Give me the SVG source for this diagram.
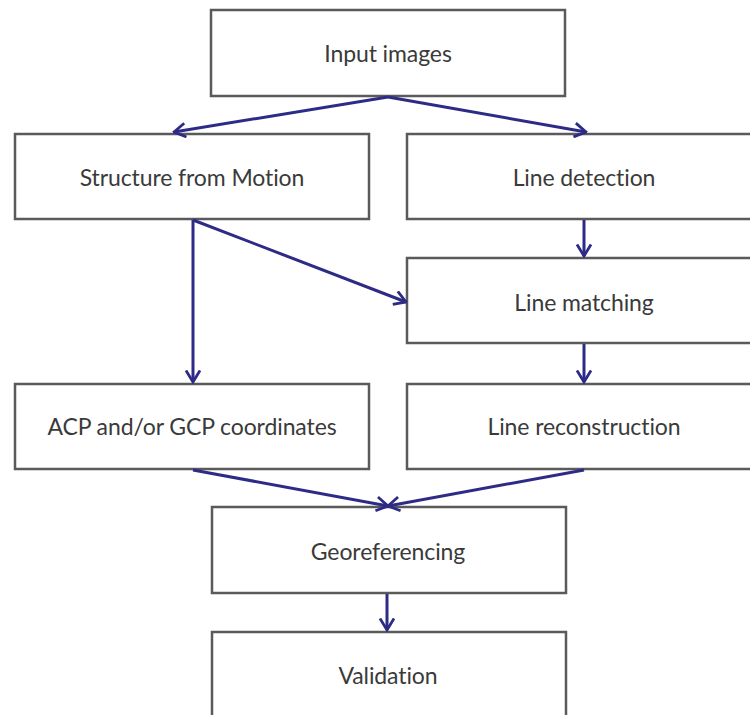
<svg xmlns="http://www.w3.org/2000/svg" width="750" height="715" viewBox="0 0 750 715">
<style>
.box{fill:#fff;stroke:#5a5a5a;stroke-width:2.5}
.lbl{font-family:Lato,"Liberation Sans",sans-serif;font-size:23px;fill:#3a3a3a;text-anchor:middle;letter-spacing:-0.1px}
.con{stroke:#2d2b86;stroke-width:3;fill:none;marker-end:url(#ah)}
</style>
<defs>
<marker id="ah" markerUnits="userSpaceOnUse" viewBox="0 0 14 16" markerWidth="14" markerHeight="16" refX="12.5" refY="8" orient="auto">
<path d="M1,1 L12.5,8 L1,15" fill="none" stroke="#2d2b86" stroke-width="2.8"/>
</marker>
</defs>
<rect width="750" height="715" fill="#fff"/>
<g id="input-images"><rect class="box" x="211" y="10" width="354" height="86"/><text class="lbl" x="388" y="62">Input images</text></g>
<g id="sfm"><rect class="box" x="15" y="134" width="354" height="85"/><text class="lbl" x="192" y="186">Structure from Motion</text></g>
<g id="line-detection"><rect class="box" x="407" y="134" width="356" height="85"/><text class="lbl" x="584" y="186">Line detection</text></g>
<g id="line-matching"><rect class="box" x="407" y="258" width="356" height="85"/><text class="lbl" x="584" y="311">Line matching</text></g>
<g id="acp-gcp"><rect class="box" x="15" y="384" width="354" height="85"/><text class="lbl" x="192" y="435">ACP and/or GCP coordinates</text></g>
<g id="line-reconstruction"><rect class="box" x="407" y="384" width="356" height="85"/><text class="lbl" x="584" y="435">Line reconstruction</text></g>
<g id="georeferencing"><rect class="box" x="212" y="507" width="354" height="86"/><text class="lbl" x="388" y="560">Georeferencing</text></g>
<g id="validation"><rect class="box" x="212" y="632" width="354" height="95"/><text class="lbl" x="388" y="684">Validation</text></g>
<g id="connectors">
<line class="con" x1="388" y1="97" x2="174" y2="132"/>
<line class="con" x1="388" y1="97" x2="586" y2="132"/>
<line class="con" x1="193" y1="220" x2="193" y2="382"/>
<line class="con" x1="193" y1="220" x2="406" y2="302"/>
<line class="con" x1="584" y1="220" x2="584" y2="256"/>
<line class="con" x1="584" y1="344" x2="584" y2="382"/>
<line class="con" x1="193" y1="470" x2="388" y2="506"/>
<line class="con" x1="584" y1="470" x2="388" y2="506"/>
<line class="con" x1="387" y1="594" x2="387" y2="630"/>
</g>
</svg>
